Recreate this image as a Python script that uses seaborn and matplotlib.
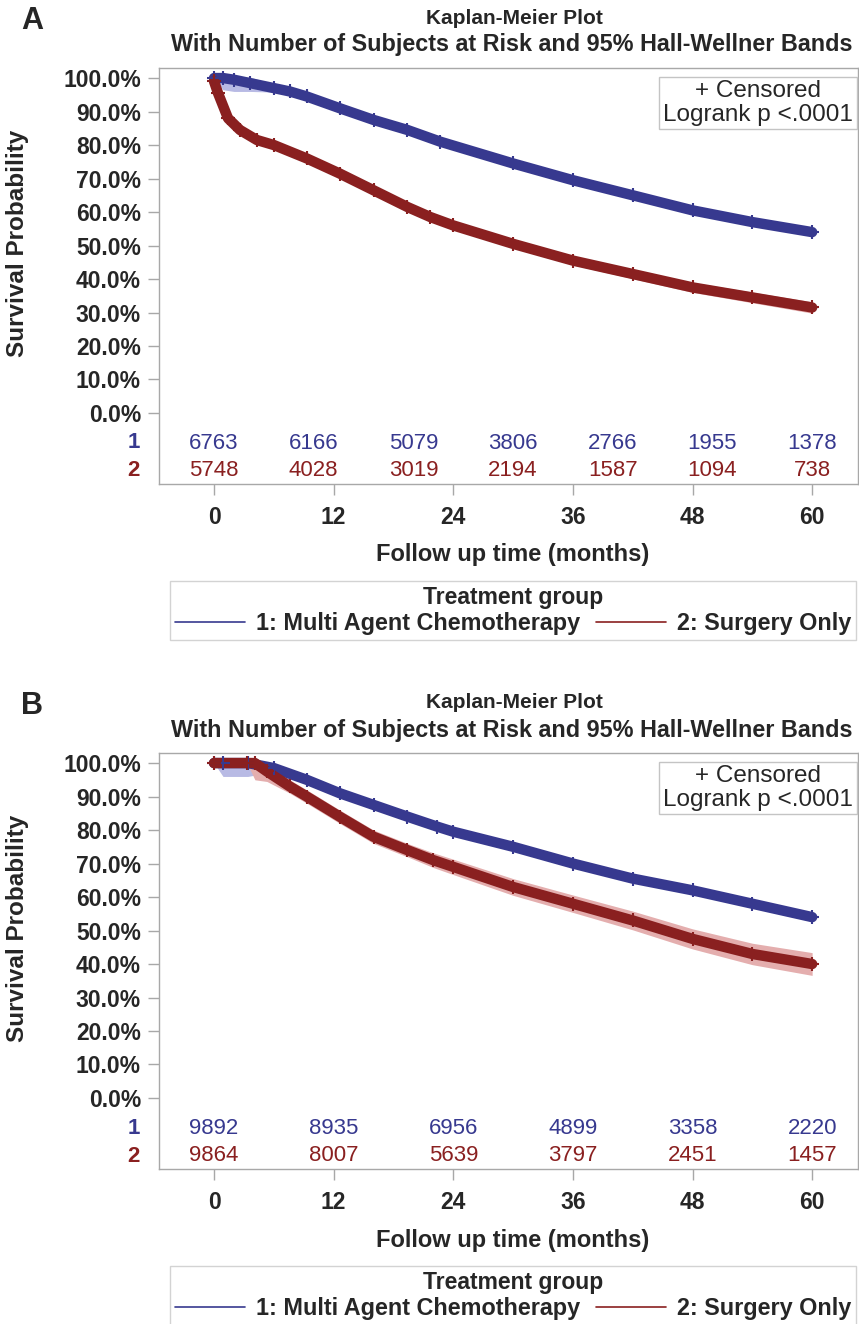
import numpy as np
import pandas as pd
import matplotlib
matplotlib.use("Agg")
import matplotlib.pyplot as plt
from matplotlib.lines import Line2D
import seaborn as sns

sns.set_style("white")
plt.rcParams["font.family"] = ["Liberation Sans", "DejaVu Sans"]

W, H = 859, 1324
BLUE = "#37398F"
RED = "#8A2020"
BLUE_BAND = "#B8BAE4"
RED_BAND = "#E4AEAE"
GRAY = "#A8A8A8"

groups = ["1: Multi Agent Chemotherapy", "2: Surgery Only"]
group_ids = ["1", "2"]

# Panel A - survival curves (months, %)
a_blue_t = [0, 0.9, 2, 3.6, 6, 7.6, 9.3, 12.6, 16, 19.4, 22.7, 30, 36, 42, 48, 54, 60]
a_blue_s = [100, 100, 99.5, 98.5, 97, 96, 94.5, 91, 87.5, 84.5, 81, 74.5, 69.5, 65, 60.5, 57, 54]
a_blue_w = [0, 3.5, 3.5, 2.5, 1.2, 1, 1, 1, 1, 1, 1, 1, 1, 1, 1, 1, 1]
a_red_t = [0, 0.4, 1.4, 2.6, 4.3, 6, 9.3, 12.6, 16, 19.4, 21.7, 24, 30, 36, 42, 48, 54, 60]
a_red_s = [99, 95.5, 88, 84.5, 81.5, 80, 76, 71.5, 66.5, 61.5, 58.5, 56, 50.5, 45.5, 41.5, 37.5, 34.5, 31.5]
a_red_w = [1, 1, 1, 1, 1, 1, 1, 1, 1, 1, 1.1, 1.1, 1.2, 1.3, 1.4, 1.5, 1.6, 1.7]
a_risk_t = [0, 10, 20, 30, 40, 50, 60]
a_risk_1 = [6763, 6166, 5079, 3806, 2766, 1955, 1378]
a_risk_2 = [5748, 4028, 3019, 2194, 1587, 1094, 738]

# Panel B - survival curves (months, %)
b_blue_t = [0, 0.9, 3.4, 6, 9.3, 12.6, 16, 19.4, 22.4, 24, 30, 36, 42, 48, 54, 60]
b_blue_s = [100, 100, 100, 98.5, 95, 91, 87.5, 84, 81, 79.5, 75, 70, 65.5, 62, 58, 54]
b_blue_w = [0, 4, 4, 1, 1, 1, 1, 1, 1, 1, 1, 1, 1.1, 1.2, 1.2, 1.3]
b_red_t = [0, 3.3, 4.1, 5.3, 7.6, 9.3, 12.6, 16, 19.4, 22, 24, 30, 36, 42, 48, 54, 60]
b_red_s = [100, 100, 100, 97.5, 93, 90, 84, 78, 74, 71, 69, 63, 58, 53, 47.5, 43, 40]
b_red_w = [0, 0, 5, 3, 2, 2, 2, 2, 2, 2.2, 2.3, 2.5, 2.6, 2.8, 3, 3.2, 3.4]
b_risk_t = [0, 12, 24, 36, 48, 60]
b_risk_1 = [9892, 8935, 6956, 4899, 3358, 2220]
b_risk_2 = [9864, 8007, 5639, 3797, 2451, 1457]

fig = plt.figure(figsize=(W / 100, H / 100), dpi=100)


def fx(px):
    return px / W


def fy(py):
    return 1 - py / H


def panel(off, letter, curves, risk_t, risk_1, risk_2):
    ax = fig.add_axes([fx(159), fy(484 + off), fx(858 - 159), (484 - 68) / H])
    frames = []
    for gid, (t, s, w) in zip(group_ids, curves):
        frames.append(pd.DataFrame({"time": t, "surv": s, "half": w, "group": gid}))
    df = pd.concat(frames, ignore_index=True)
    pal = {"1": BLUE, "2": RED}
    bands = {"1": BLUE_BAND, "2": RED_BAND}
    for gid in group_ids:
        d = df[df.group == gid]
        ax.fill_between(d.time, d.surv - d.half, np.minimum(d.surv + d.half, 100.3),
                        color=bands[gid], lw=0, zorder=1)
    for gid in group_ids:
        d = df[df.group == gid]
        sns.lineplot(data=d, x="time", y="surv", color=pal[gid], lw=7.5,
                     ax=ax, legend=False, zorder=2, sort=False)
        sns.scatterplot(data=d, x="time", y="surv", color=pal[gid], marker="+",
                        s=90, linewidth=1.5, ax=ax, legend=False, zorder=3)

    ax.set_xlim(-5.52, 64.6)
    ax.set_ylim(-21.2, 103)
    ax.set_xticks([0, 12, 24, 36, 48, 60])
    ax.set_yticks(list(range(0, 101, 10)))
    ax.set_yticklabels([f"{v:.1f}%" for v in range(0, 101, 10)],
                       fontsize=16.5, fontweight="bold")
    ax.set_xticklabels([str(v) for v in [0, 12, 24, 36, 48, 60]],
                       fontsize=16.5, fontweight="bold")
    ax.tick_params(axis="y", length=8, width=1, color=GRAY, pad=5, left=True)
    ax.tick_params(axis="x", length=8, width=1, color=GRAY, pad=8, bottom=True)
    ax.set_xlabel("")
    ax.set_ylabel("")
    for sp in ax.spines.values():
        sp.set_color(GRAY)
        sp.set_linewidth(1)

    # number at risk
    for t, n1, n2 in zip(risk_t, risk_1, risk_2):
        ax.text(t, -8.96, str(n1), color=BLUE, fontsize=16, ha="center", va="center")
        ax.text(t, -17.3, str(n2), color=RED, fontsize=16, ha="center", va="center")
    fig.text(fx(140), fy(443 + off), group_ids[0], color=BLUE, fontsize=16,
             fontweight="bold", ha="right", va="center")
    fig.text(fx(140), fy(471 + off), group_ids[1], color=RED, fontsize=16,
             fontweight="bold", ha="right", va="center")

    # titles and labels
    fig.text(fx(32), fy(21 + off), letter, fontsize=22, fontweight="bold",
             ha="center", va="center")
    fig.text(fx(514), fy(18 + off), "Kaplan-Meier Plot", fontsize=15,
             fontweight="bold", ha="center", va="center")
    fig.text(fx(512), fy(45 + off),
             "With Number of Subjects at Risk and 95% Hall-Wellner Bands",
             fontsize=16.8, fontweight="bold", ha="center", va="center")
    fig.text(fx(18), fy(243 + off), "Survival Probability", fontsize=17.5,
             fontweight="bold", rotation=90, ha="center", va="center")
    fig.text(fx(513), fy(555 + off), "Follow up time (months)", fontsize=17,
             fontweight="bold", ha="center", va="center")
    fig.text(fx(758), fy(103 + off), "+ Censored\nLogrank p <.0001", fontsize=17.5,
             ha="center", va="center", linespacing=1.1,
             bbox=dict(boxstyle="square,pad=0.15", fc="white", ec="#C4C4C4", lw=1))

    handles = [Line2D([], [], color=BLUE, lw=1.2), Line2D([], [], color=RED, lw=1.2)]
    leg = fig.legend(handles, groups, title="Treatment group", ncol=2,
                     loc="upper center", bbox_to_anchor=(fx(513), fy(581 + off)),
                     frameon=True, fancybox=False, edgecolor="#C8C8C8",
                     prop=dict(weight="bold", size=16.8),
                     title_fontproperties=dict(weight="bold", size=16.5),
                     handlelength=3, handletextpad=0.45, columnspacing=0.7,
                     borderpad=0.2, labelspacing=0.15, borderaxespad=0)
    leg.get_frame().set_linewidth(1)
    return ax


panel(0, "A",
      [(a_blue_t, a_blue_s, a_blue_w), (a_red_t, a_red_s, a_red_w)],
      a_risk_t, a_risk_1, a_risk_2)
panel(685, "B",
      [(b_blue_t, b_blue_s, b_blue_w), (b_red_t, b_red_s, b_red_w)],
      b_risk_t, b_risk_1, b_risk_2)

fig.savefig("out.png", dpi=100)
